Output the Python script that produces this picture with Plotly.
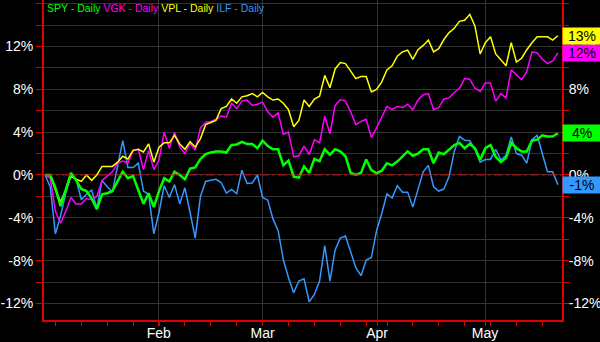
import plotly.graph_objects as go

# ---- data (percent change, daily) ----
spy = [0, 0, -1.2, -2.9, -1.4, 0.2, -0.5, -1.3, -1.5, -2.2,
       -3.2, -1.8, -1.7, -1.5, -0.6, 0.3, -0.3, -0.1, -1.4, -2.7,
       -1.7, -3.0, -1.5, -0.3, -0.6, 0.3, 0.0, -0.4, 0.6, 0.7,
       1.5, 1.95, 2.1, 2.2, 2.2, 2.1, 2.8, 2.85, 3.1, 2.9,
       2.9, 2.5, 3.2, 2.7, 2.4, 2.4, 0.9, 1.35, -0.15, -0.25,
       0.8, 0.2, 1.5, 1.3, 2.4, 1.9, 2.4, 2.2, 1.75, 0.2,
       0.0, 0.2, 1.45, 0.45, 0.15, 0.4, 1.1, 0.9, 1.25, 1.7,
       2.2, 1.8, 2.0, 2.4, 2.4, 1.1, 2.1, 1.95, 2.4, 2.8,
       3.0, 2.5, 2.9, 2.5, 1.4, 2.5, 2.8, 1.7, 1.2, 1.6,
       3.0, 2.5, 2.2, 2.2, 3.2, 3.3, 3.7, 3.6, 3.6, 3.9]

vgk = [0, -0.3, -3.4, -4.5, -3.4, -2.1, -2.7, -2.7, -2.2, -2.3,
       -2.0, -0.5, -0.1, 0.3, 1.1, 1.3, 1.1, 2.3, 2.4, 0.5,
       2.3, 0.5, 1.4, 4.0, 2.5, 4.0, 2.6, 2.0, 3.0, 2.3,
       4.4, 4.9, 5.0, 5.2, 5.5, 5.4, 6.7, 6.2, 6.9, 7.0,
       6.5, 6.6, 6.8, 5.9, 5.4, 5.8, 3.8, 4.0, 1.7, 1.8,
       2.7, 1.9, 3.3, 3.0, 5.5, 3.85, 6.5, 7.05, 6.9, 5.9,
       4.7, 5.0, 5.2, 3.5, 4.4, 5.4, 6.4, 6.1, 6.4, 6.3,
       6.6, 6.1, 7.0, 7.5, 7.6, 6.1, 6.3, 7.1, 7.2, 7.7,
       8.1, 9.0, 8.95, 8.1, 7.8, 8.6, 8.6, 6.9, 7.6, 7.2,
       9.8, 9.35, 8.9, 9.65, 11.5, 11.4, 10.8, 10.4, 10.65, 11.4]

vpl = [0, 0, -1.4, -2.5, -1.4, -0.1, -0.4, -0.6, 0.0, -0.5,
       0.0, 0.8, 0.8, 0.8, 1.2, 1.75, 1.5, 2.3, 2.4, 2.15,
       2.9, 1.2, 2.6, 3.0, 3.0, 3.7, 2.9, 2.4, 3.1, 2.6,
       3.4, 4.7, 4.9, 5.1, 6.2, 6.4, 7.1, 6.7, 7.3, 7.4,
       7.6, 7.3, 7.7, 7.3, 7.0, 7.1, 6.7, 6.1, 4.5, 5.1,
       7.0, 6.4, 7.1, 7.35, 9.3, 8.15, 9.9, 10.5, 10.4, 9.75,
       9.0, 9.2, 9.2, 7.75, 8.0, 8.7, 9.8, 10.2, 11.1, 11.5,
       11.65, 10.8, 11.7, 12.1, 12.6, 11.5, 11.8, 12.65, 13.3, 13.7,
       14.35, 14.45, 15.0, 13.9, 11.3, 12.35, 12.9, 11.3, 10.7, 10.2,
       12.35, 10.55, 10.9, 11.7, 12.35, 12.9, 12.9, 12.9, 12.6, 13.0]

ilf = [0, -1.1, -5.5, -3.8, -1.7, 0.0, -0.4, -2.3, -1.8, -1.4,
       -3.1, -0.5, -1.1, -1.6, 0.8, 3.2, 0.7, 0.7, 1.1, -1.5,
       -1.8, -5.5, -3.5, -1.0, -2.1, -0.9, -2.7, -1.2, -3.5, -5.9,
       -2.0, -0.6, -0.5, -0.4, -0.7, -1.7, -1.35, -1.75, 0.45, -0.8,
       -0.75, 0.0, -2.1, -2.35, -4.1, -5.2, -7.9, -9.6, -11.0, -9.9,
       -9.7, -11.85, -11.15, -9.9, -6.6, -9.9, -7.0, -5.9, -5.7, -7.1,
       -8.65, -9.4, -7.95, -7.7, -5.2, -3.6, -1.75, -2.15, -1.0, -1.6,
       -1.6, -3.0, -1.45, 0.3, 0.9, -1.1, -1.5, -1.3, -0.15, 2.2,
       3.6, 3.25, 3.2, 2.4, 1.2, 1.45, 1.45, 2.4, 1.4, 1.85,
       3.55, 2.0, 1.85, 1.1, 3.3, 3.7, 2.0, 0.3, 0.3, -0.9]

series_names = ["SPY - Daily", "VGK - Daily", "VPL - Daily", "ILF - Daily"]
end_labels = ["4%", "12%", "13%", "-1%"]
month_labels = ["Feb", "Mar", "Apr", "May"]
y_tick_values = [-12, -8, -4, 0, 4, 8, 12]

days = list(range(len(spy)))

colors = ["#00ff00", "#ff00ff", "#ffff00", "#3399ff"]
widths = [2.5, 1.5, 1.5, 1.5]
all_series = [spy, vgk, vpl, ilf]

RED = "#dd0000"
GRID = "#333333"
FONT = "Arial, Liberation Sans, sans-serif"

fig = go.Figure()
draw_order = [3, 1, 2, 0]
for k in draw_order:
    fig.add_trace(go.Scatter(x=days, y=all_series[k], mode="lines",
                             line=dict(color=colors[k], width=widths[k]),
                             name=series_names[k], showlegend=False))
# invisible trace to activate right axis
fig.add_trace(go.Scatter(x=[days[0]], y=[spy[0]], yaxis="y2", mode="markers",
                         marker=dict(opacity=0), showlegend=False, hoverinfo="skip"))

yrange = [-13.54, 16.34]
ytext = [f"{v}%" for v in y_tick_values]
month_pos = [21.95, 42.0, 64.1, 84.95]
week_pos = [2, 7, 12, 17, 22, 27, 32, 37, 42, 47, 52, 57, 62, 66.1, 71, 76, 81, 86, 91, 96]

fig.update_layout(
    width=600, height=342,
    margin=dict(l=44, r=38, t=0, b=22, autoexpand=False),
    paper_bgcolor="black", plot_bgcolor="black",
    font=dict(family=FONT, color="white", size=14),
    xaxis=dict(range=[-0.2, 99.8], tickmode="array", tickvals=month_pos,
               ticktext=month_labels, ticks="outside", ticklen=4, tickcolor=RED,
               ticklabelstandoff=-5,
               showgrid=True, gridcolor=GRID, gridwidth=1, automargin=False,
               showline=True, linecolor=RED, linewidth=2, zeroline=False,
               tickfont=dict(color="white", size=14, family=FONT),
               minor=dict(tickmode="array", tickvals=week_pos, ticks="outside",
                          ticklen=4, tickcolor=RED, showgrid=False)),
    yaxis=dict(range=yrange, tickmode="array", tickvals=y_tick_values, ticktext=ytext,
               ticks="outside", ticklen=6, tickcolor=RED, automargin=False,
               showgrid=True, gridcolor=GRID, gridwidth=1,
               showline=True, linecolor=RED, linewidth=2, zeroline=False,
               tickfont=dict(color="white", size=14, family=FONT),
               minor=dict(dtick=2, tick0=0, ticks="outside", ticklen=6, tickcolor=RED,
                          showgrid=True, gridcolor=GRID, gridwidth=1)),
    yaxis2=dict(range=yrange, overlaying="y", side="right", anchor="x",
                tickmode="array", tickvals=y_tick_values, ticktext=ytext,
                ticks="outside", ticklen=5, tickcolor=RED, showgrid=False,
                ticklabelstandoff=-3,
                showline=True, linecolor=RED, linewidth=2, zeroline=False,
                automargin=False,
                tickfont=dict(color="white", size=14, family=FONT),
                minor=dict(dtick=2, tick0=0, ticks="outside", ticklen=5, tickcolor=RED,
                           showgrid=False)),
    shapes=[dict(type="line", xref="paper", x0=0, x1=1, yref="y", y0=0, y1=0,
                 line=dict(color=RED, width=1, dash="dashdot"), layer="above")],
)

legend_text = " ".join(f"<span style='color:{c}'>{n}</span>" for n, c in zip(series_names, colors))
annotations = [dict(xref="paper", yref="paper", x=0, y=1, xanchor="left", yanchor="top",
                    xshift=1, text=legend_text, showarrow=False,
                    font=dict(size=10.5, family=FONT))]
for vals, c, lab in zip(all_series, colors, end_labels):
    annotations.append(dict(xref="paper", yref="y", x=1, y=vals[-1], xanchor="left",
                            yanchor="middle", text=lab, showarrow=False, bgcolor=c,
                            font=dict(color="black", size=14, family=FONT),
                            width=36, height=14, borderpad=1, align="center"))
fig.update_layout(annotations=annotations)

fig.write_html("out.html")
